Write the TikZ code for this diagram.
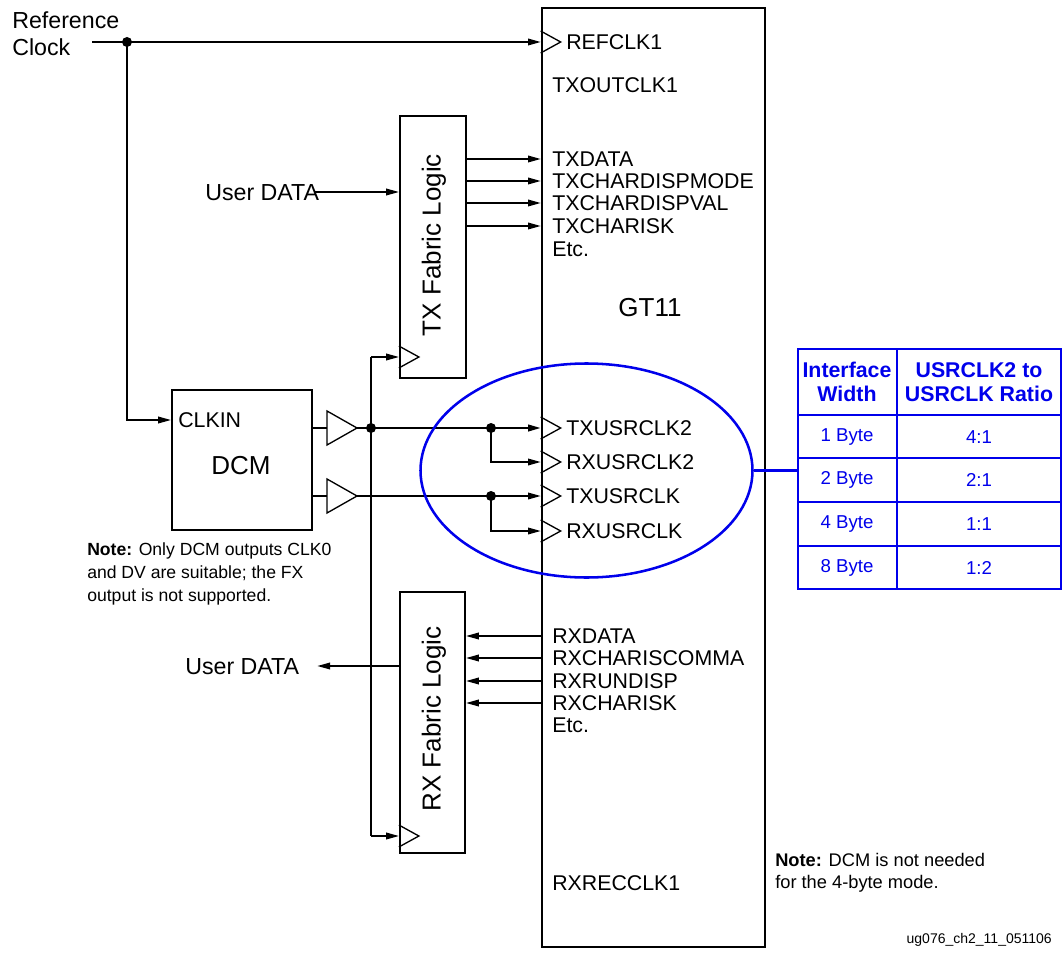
\documentclass[tikz,border=0pt]{standalone}
\usepackage{fontspec}
\setmainfont{Liberation Sans}
\usetikzlibrary{arrows.meta,shapes.geometric}
\definecolor{tblue}{RGB}{0,0,235}
\begin{document}
\begin{tikzpicture}[x=0.75pt,y=-0.75pt,
  lbl/.style={font=\fontsize{16}{18}\selectfont, inner sep=0pt, anchor=west, text height=11.5pt, text depth=0pt},
  ulbl/.style={lbl, font=\fontsize{17.4}{20}\selectfont, text height=12.5pt},
  big/.style={font=\fontsize{19.5}{22}\selectfont, inner sep=0pt},
  note/.style={font=\fontsize{13.2}{17.25}\selectfont, inner sep=0pt, anchor=north west, align=left},
  blk/.style={draw, line width=1.7pt, inner sep=0pt},
  wire/.style={line width=1pt},
  sig/.style={wire, -{Triangle[length=9.5pt,width=5pt]}},
  fat/.style={line width=1.5pt},
  jdot/.style={circle, fill, inner sep=0pt, minimum size=7.5pt},
  bline/.style={draw=tblue, line width=1.9pt},
  thead/.style={font=\fontsize{16}{18.2}\selectfont\bfseries, text=tblue, align=center, inner sep=0pt},
  tcell/.style={font=\fontsize{14}{17}\selectfont, text=tblue, inner sep=0pt},
  clktri/.pic={\draw[line width=1pt] (0,-11) -- (20,0) -- (0,11);},
  buftri/.pic={\draw[line width=1pt] (0,-17) -- (30,0) -- (0,17) -- cycle;}
]
\useasboundingbox (0,0) rectangle (1063,959);

% ---------------- blocks ----------------
\node[blk, line width=2pt, minimum width=167.25pt, minimum height=704.25pt] (gt) at (653.5,477.5) {};
\node[big] (gtname) at (650,308) {GT11};

\node[blk, minimum width=49.5pt, minimum height=196.5pt] (tx) at (433,247) {};
\node[big, rotate=90] (txname) at (434,245) {TX Fabric Logic};

\node[blk, minimum width=48.75pt, minimum height=195.75pt] (rx) at (432.5,722.5) {};
\node[big, rotate=90] (rxname) at (434,719) {RX Fabric Logic};

\node[blk, minimum width=105pt, minimum height=105pt] (dcm) at (242,460) {};
\node[big] (dcmname) at (241,466) {DCM};
\node[lbl] (clkin) at (178,420) {CLKIN};

% ---------------- GT11 port labels ----------------
\node[lbl] (refclk) at (566,42) {REFCLK1};
\node[lbl] (txoutclk) at (552,85) {TXOUTCLK1};
\node[lbl] (txdata) at (552,159) {TXDATA};
\node[lbl] (txmode) at (552,181) {TXCHARDISPMODE};
\node[lbl] (txval) at (552,203) {TXCHARDISPVAL};
\node[lbl] (txisk) at (552,226) {TXCHARISK};
\node[lbl] (txetc) at (552,249) {Etc.};
\node[lbl] (txuc2) at (566,428) {TXUSRCLK2};
\node[lbl] (rxuc2) at (566,462) {RXUSRCLK2};
\node[lbl] (txuc) at (566,496) {TXUSRCLK};
\node[lbl] (rxuc) at (566,531) {RXUSRCLK};
\node[lbl] (rxdata) at (552,636) {RXDATA};
\node[lbl] (rxcomma) at (552,658) {RXCHARISCOMMA};
\node[lbl] (rxrun) at (552,681) {RXRUNDISP};
\node[lbl] (rxisk) at (552,703) {RXCHARISK};
\node[lbl] (rxetc) at (552,725) {Etc.};
\node[lbl] (rxrec) at (552,883) {RXRECCLK1};

% clock-input markers on the GT11 edge
\foreach \p in {refclk,txuc2,rxuc2,txuc,rxuc}
  \pic at (gt.west |- \p.west) {clktri};

% ---------------- reference clock ----------------
\node[font=\fontsize{17.4}{20}\selectfont, align=left, anchor=west, inner sep=0pt] (ref) at (12,34) {Reference\\Clock};
\coordinate (refin) at (92,42);
\node[jdot] (d0) at (127,42) {};
\draw[sig] (refin) -- (gt.west |- refclk.west);
\draw[sig] (d0.center) |- (dcm.west |- clkin.west);

% ---------------- TX data path ----------------
\node[ulbl] (udtx) at (205,192) {User DATA};
\draw[sig] ([xshift=-4pt]udtx.east) -- (tx.west |- udtx.east);
\foreach \p in {txdata,txmode,txval,txisk}
  \draw[sig] (tx.east |- \p.west) -- (gt.west |- \p.west);

% ---------------- RX data path ----------------
\node[ulbl] (udrx) at (185,666) {User DATA};
\foreach \p in {rxdata,rxcomma,rxrun,rxisk}
  \draw[sig] (gt.west |- \p.west) -- (rx.east |- \p.west);
\draw[sig] (rx.west |- udrx.east) -- ([xshift=13.5pt]udrx.east);

% ---------------- DCM output buffers ----------------
\coordinate (b1) at (327,428);
\coordinate (b2) at (327,496);
\coordinate (b1t) at (357,428);
\coordinate (b2t) at (357,496);
\draw[wire] (dcm.east |- b1) -- (b1);
\draw[wire] (dcm.east |- b2) -- (b2);
\pic at (b1) {buftri};
\pic at (b2) {buftri};

\node[jdot] (d1) at (371,428) {};
\node[jdot] (d2) at (491,428) {};
\node[jdot] (d3) at (491,496) {};

\draw[fat, -{Triangle[length=9.5pt,width=5pt]}] (b1t) -- (gt.west |- txuc2.west);
\draw[sig] (d2.center) |- (gt.west |- rxuc2.west);
\draw[sig] (b2t) -- (gt.west |- txuc.west);
\draw[sig] (d3.center) |- (gt.west |- rxuc.west);

% clock bus to the fabric logic
\coordinate (vbus) at (371,357);
\coordinate (vbot) at (371,836);
\draw[wire] (vbus) -- (vbot);
\draw[sig] (vbus) -- (vbus -| tx.west);
\draw[sig] (vbot) -- (vbot -| rx.west);
\pic at (vbus -| tx.west) {clktri};
\pic at (vbot -| rx.west) {clktri};

% ---------------- user clock group and ratio table ----------------
\node[ellipse, bline, minimum width=249pt, minimum height=160.5pt, inner sep=0pt] (ell) at (586.5,470.5) {};
\node[bline, minimum width=197.25pt, minimum height=180pt, inner sep=0pt] (tbl) at (929.5,469) {};
\draw[bline] (ell.east) -- (ell.east -| tbl.west);
\draw[bline] (897,349) -- (897,589);
\foreach \yy in {415,458,502,546}
  \draw[draw=tblue, line width=0.9pt] (798,\yy) -- (1061,\yy);

\node[thead] (h1) at (847,382) {Interface\\Width};
\node[thead] (h2) at (979,382) {USRCLK2 to\\USRCLK Ratio};
\node[tcell] (w1) at (847,437) {1 Byte};
\node[tcell] (r1) at (979,437) {4:1};
\node[tcell] (w2) at (847,480) {2 Byte};
\node[tcell] (r2) at (979,480) {2:1};
\node[tcell] (w3) at (847,524) {4 Byte};
\node[tcell] (r3) at (979,524) {1:1};
\node[tcell] (w4) at (847,568) {8 Byte};
\node[tcell] (r4) at (979,568) {1:2};

% ---------------- notes ----------------
\node[note] (note1) at (87,542) {\textbf{Note:} Only DCM outputs CLK0\\and DV are suitable; the FX\\output is not supported.};
\node[note, font=\fontsize{13.7}{16.5}\selectfont] (note2) at (775,853) {\textbf{Note:} DCM is not needed\\for the 4-byte mode.};
\node[font=\fontsize{10.5}{12}\selectfont, anchor=east, inner sep=0pt] (fig) at (1052,940) {ug076\_ch2\_11\_051106};
\end{tikzpicture}
\end{document}
